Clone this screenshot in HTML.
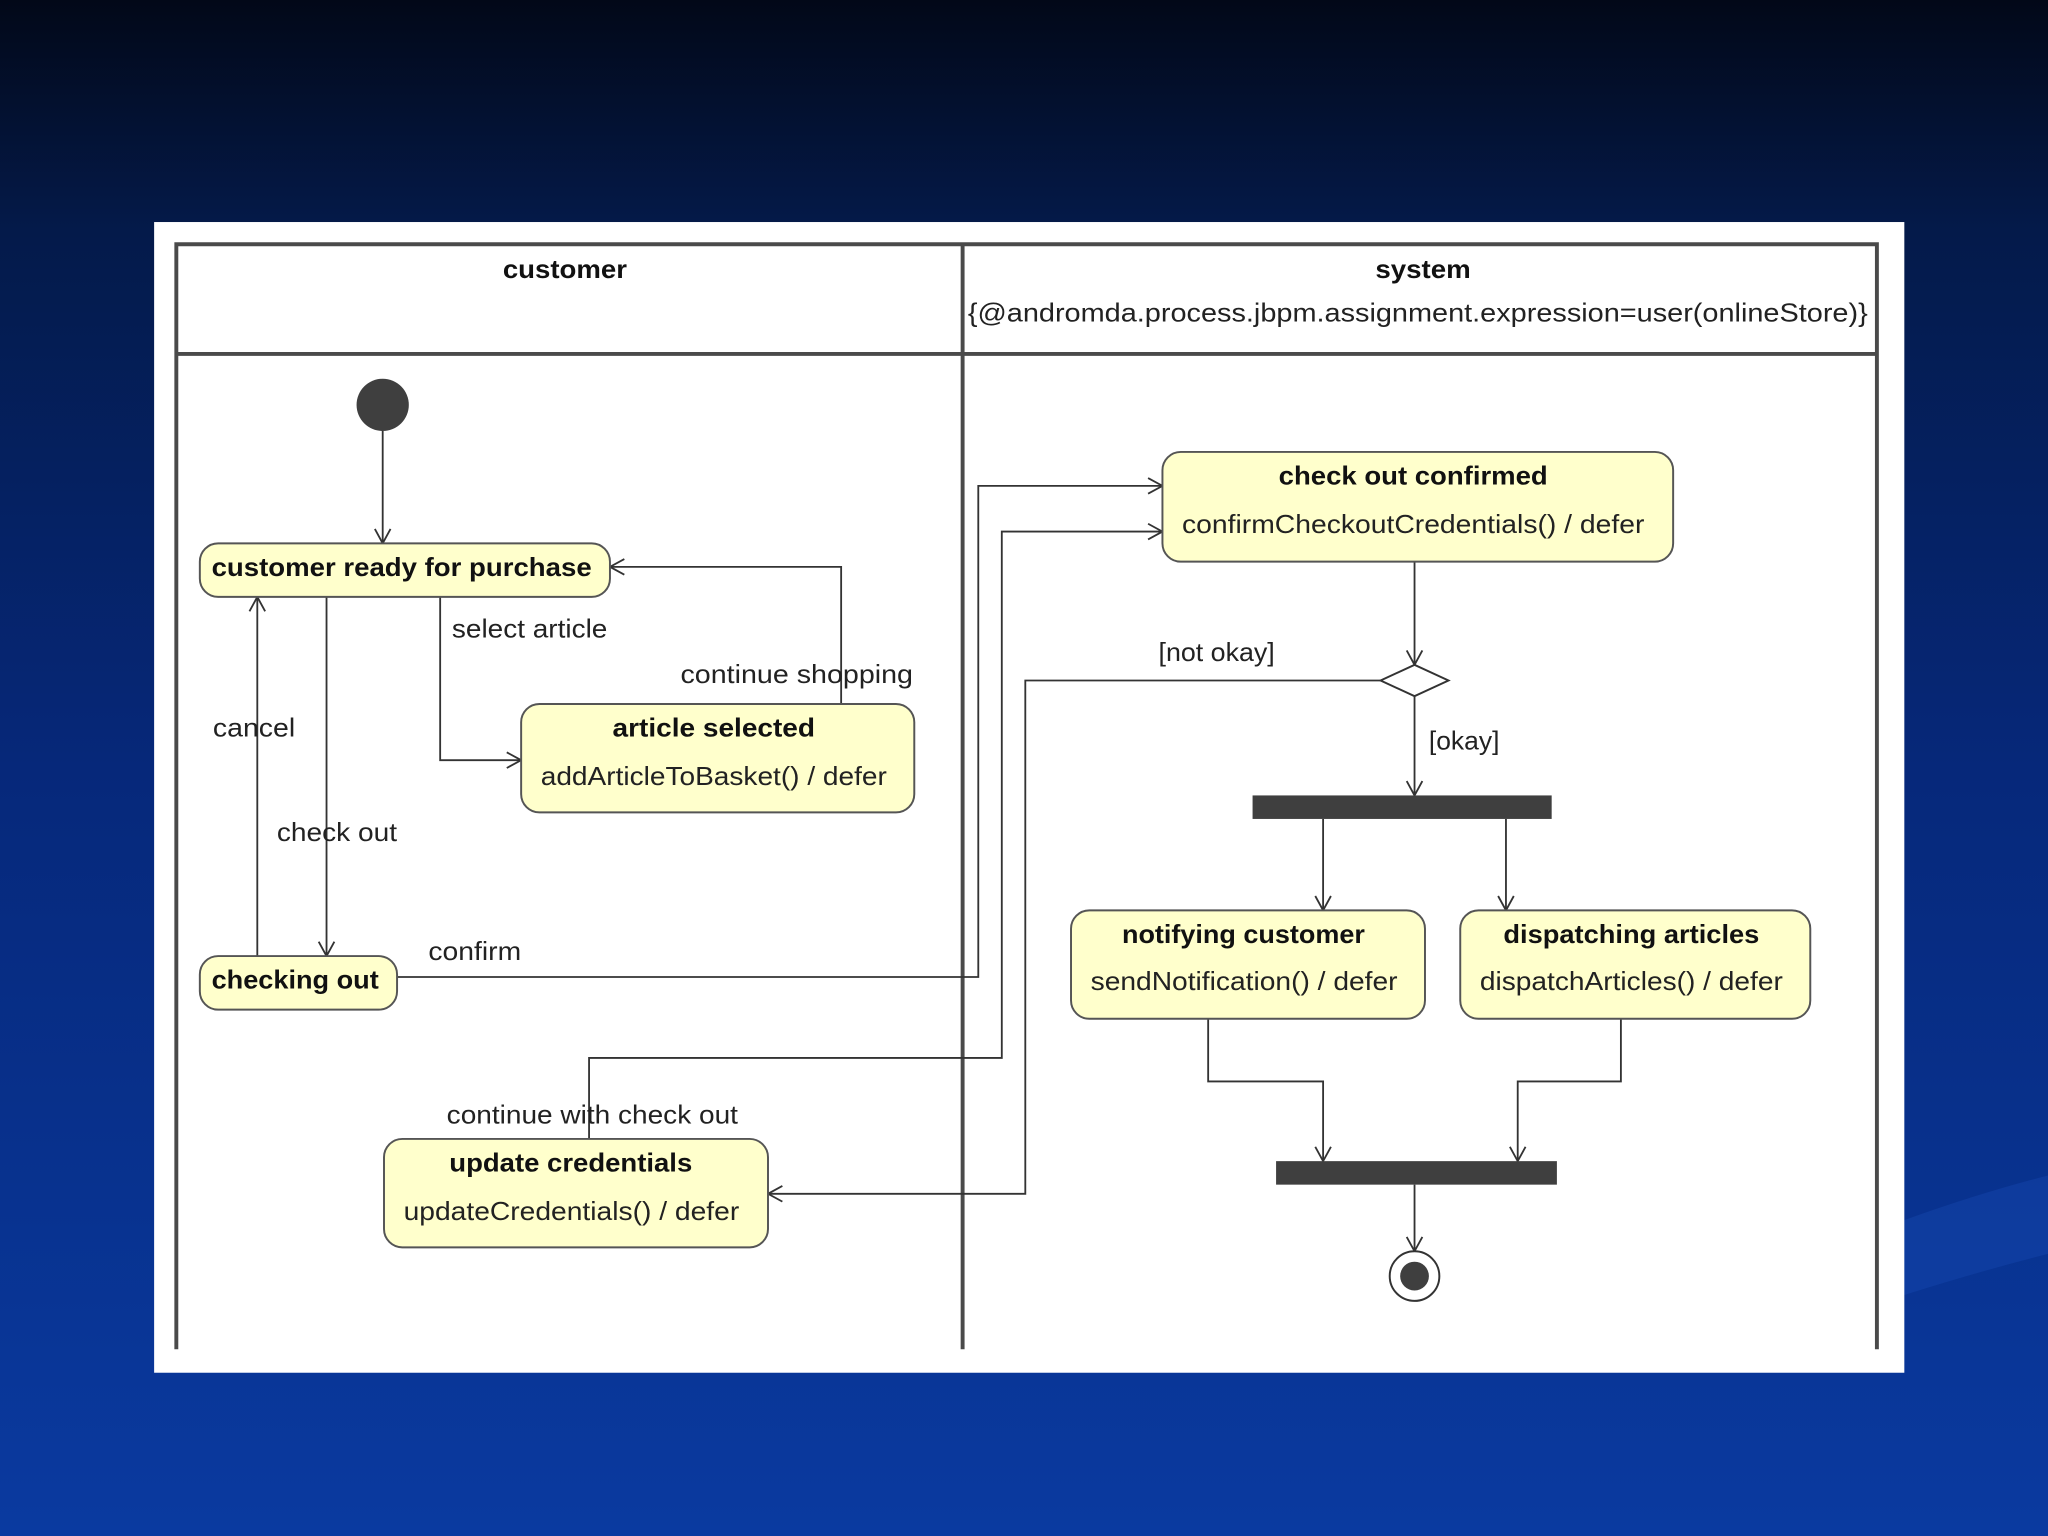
<!DOCTYPE html>
<html><head><meta charset="utf-8"><style>
html,body{margin:0;padding:0;width:2048px;height:1536px;overflow:hidden;background:#06236e}
svg{display:block}
text{font-family:"Liberation Sans",sans-serif;fill:#111}
.b{font-weight:bold;font-size:20px}
.n{font-size:20px;fill:#222}
</style></head><body>
<svg width="2048" height="1536" viewBox="0 0 1568 1176" xmlns="http://www.w3.org/2000/svg">
<defs>
<linearGradient id="bg" x1="0" y1="0" x2="0" y2="1">
<stop offset="0" stop-color="#020818"/>
<stop offset="0.15" stop-color="#041a4a"/>
<stop offset="0.5" stop-color="#06287a"/>
<stop offset="1" stop-color="#0a3aa0"/>
</linearGradient>
<marker id="a" markerWidth="14" markerHeight="14" refX="12" refY="7" orient="auto" markerUnits="userSpaceOnUse">
<path d="M1,1 L12,7 L1,13" fill="none" stroke="#333" stroke-width="1.4"/>
</marker>
</defs>
<rect width="1568" height="1176" fill="url(#bg)"/>
<path d="M1300,1000 Q1450,930 1568,900 L1568,960 Q1450,990 1320,1040Z" fill="#1a4db8" opacity="0.35"/>
<rect x="118" y="170" width="1340" height="881" fill="#fff"/>
<g stroke="#4a4a4a" stroke-width="3" fill="none">
<path d="M135,1033 V187 H1437 V1033"/>
<path d="M135,271 H1437"/>
<path d="M737,187 V1033"/>
</g>
<text class="b" x="385" y="213" textLength="95" lengthAdjust="spacingAndGlyphs">customer</text>
<text class="b" x="1053" y="213" textLength="73" lengthAdjust="spacingAndGlyphs">system</text>
<text class="n" x="741" y="246" textLength="689" lengthAdjust="spacingAndGlyphs">{@andromda.process.jbpm.assignment.expression=user(onlineStore)}</text>

<g stroke="#333" stroke-width="1.4" fill="none" marker-end="url(#a)">
<path d="M293,330 V416"/>
<path d="M644,539 V434 H467"/>
<path d="M337,457 V582 H399"/>
<path d="M197,732 V457"/>
<path d="M250,457 V732"/>
<path d="M304,748 H749 V372 H890"/>
<path d="M451,872 V810 H767 V407 H890"/>
<path d="M1057,521 H785 V914 H588"/>
<path d="M1083,430 V509"/>
<path d="M1083,533 V609"/>
<path d="M1013,627 V697"/>
<path d="M1153,627 V697"/>
<path d="M925,780 V828 H1013 V889"/>
<path d="M1241,780 V828 H1162 V889"/>
<path d="M1083,907 V958"/>
</g>

<circle cx="293" cy="310" r="20" fill="#3f3f3f"/>
<g fill="#ffffcc" stroke="#555" stroke-width="1.5">
<rect x="153" y="416" width="314" height="41" rx="14"/>
<rect x="399" y="539" width="301" height="83" rx="14"/>
<rect x="153" y="732" width="151" height="41" rx="14"/>
<rect x="294" y="872" width="294" height="83" rx="14"/>
<rect x="890" y="346" width="391" height="84" rx="14"/>
<rect x="820" y="697" width="271" height="83" rx="14"/>
<rect x="1118" y="697" width="268" height="83" rx="14"/>
</g>
<path d="M1057,521 L1083,509 L1109,521 L1083,533Z" fill="#fff" stroke="#333" stroke-width="1.5"/>
<rect x="959" y="609" width="229" height="18" fill="#3f3f3f"/>
<rect x="977" y="889" width="215" height="18" fill="#3f3f3f"/>
<circle cx="1083" cy="977" r="19" fill="#fff" stroke="#333" stroke-width="1.5"/>
<circle cx="1083" cy="977" r="11" fill="#3f3f3f"/>

<g lengthAdjust="spacingAndGlyphs">
<text class="b" x="162" y="441" textLength="291" lengthAdjust="spacingAndGlyphs">customer ready for purchase</text>
<text class="b" x="469" y="564" textLength="155" lengthAdjust="spacingAndGlyphs">article selected</text>
<text class="n" x="414" y="601" textLength="265" lengthAdjust="spacingAndGlyphs">addArticleToBasket() / defer</text>
<text class="b" x="162" y="757" textLength="128" lengthAdjust="spacingAndGlyphs">checking out</text>
<text class="b" x="344" y="897" textLength="186" lengthAdjust="spacingAndGlyphs">update credentials</text>
<text class="n" x="309" y="934" textLength="257" lengthAdjust="spacingAndGlyphs">updateCredentials() / defer</text>
<text class="b" x="979" y="371" textLength="206" lengthAdjust="spacingAndGlyphs">check out confirmed</text>
<text class="n" x="905" y="408" textLength="354" lengthAdjust="spacingAndGlyphs">confirmCheckoutCredentials() / defer</text>
<text class="b" x="859" y="722" textLength="186" lengthAdjust="spacingAndGlyphs">notifying customer</text>
<text class="n" x="835" y="758" textLength="235" lengthAdjust="spacingAndGlyphs">sendNotification() / defer</text>
<text class="b" x="1151" y="722" textLength="196" lengthAdjust="spacingAndGlyphs">dispatching articles</text>
<text class="n" x="1133" y="758" textLength="232" lengthAdjust="spacingAndGlyphs">dispatchArticles() / defer</text>

<text class="n" x="346" y="488" textLength="119" lengthAdjust="spacingAndGlyphs">select article</text>
<text class="n" x="521" y="523" textLength="178" lengthAdjust="spacingAndGlyphs">continue shopping</text>
<text class="n" x="163" y="564" textLength="63" lengthAdjust="spacingAndGlyphs">cancel</text>
<text class="n" x="212" y="644" textLength="92" lengthAdjust="spacingAndGlyphs">check out</text>
<text class="n" x="328" y="735" textLength="71" lengthAdjust="spacingAndGlyphs">confirm</text>
<text class="n" x="342" y="860" textLength="223" lengthAdjust="spacingAndGlyphs">continue with check out</text>
<text class="n" x="887" y="506" textLength="89" lengthAdjust="spacingAndGlyphs">[not okay]</text>
<text class="n" x="1094" y="574" textLength="54" lengthAdjust="spacingAndGlyphs">[okay]</text>
</g>
</svg>
</body></html>
